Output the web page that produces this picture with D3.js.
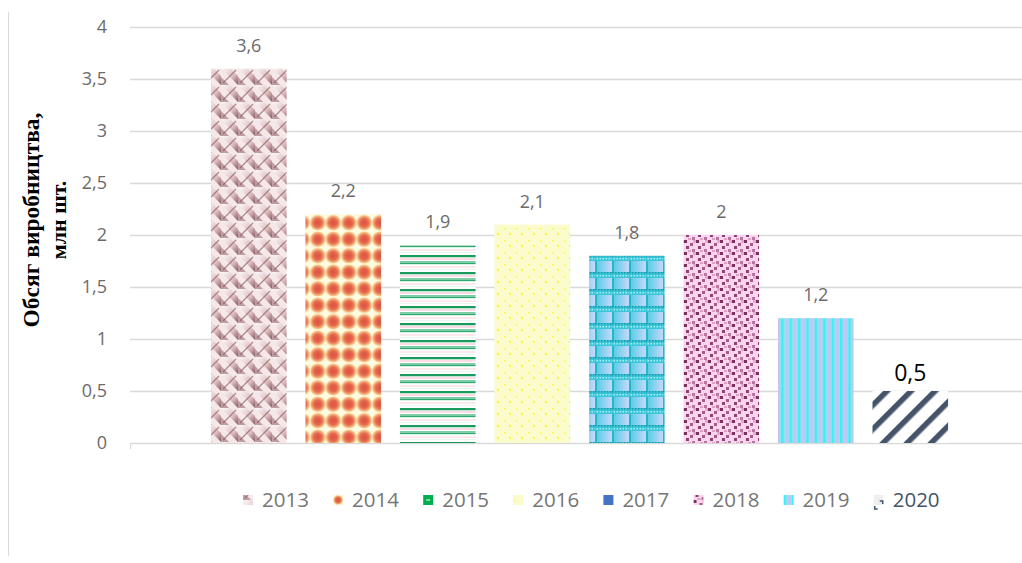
<!DOCTYPE html>
<html><head><meta charset="utf-8">
<script src="https://cdn.jsdelivr.net/npm/d3@7"></script>
<style>body{margin:0;background:#fff}svg{display:block}</style>
</head><body>
<script>
const years = ["2013","2014","2015","2016","2017","2018","2019","2020"];
const values = [3.6, 2.2, 1.9, 2.1, 1.8, 2, 1.2, 0.5];
const labels = ["3,6","2,2","1,9","2,1","1,8","2","1,2","0,5"];
const yTicks = [0, 0.5, 1, 1.5, 2, 2.5, 3, 3.5, 4];
const yTickLabels = ["0","0,5","1","1,5","2","2,5","3","3,5","4"];

const W = 1022, H = 563;
const svg = d3.select("body").append("svg").attr("width", W).attr("height", H);
const defs = svg.append("defs");
const FONT = "'Open Sans', Lato, sans-serif";

function pat(id, w, h) {
  return defs.append("pattern").attr("id", id).attr("patternUnits", "userSpaceOnUse")
    .attr("width", w).attr("height", h);
}
// 2013 weave
{
  const p = pat("p2013", 17, 17);
  p.append("rect").attr("width",17).attr("height",17).attr("fill","#f6e7e8");
  const g = defs.append("linearGradient").attr("id","g2013").attr("x1",0).attr("y1",0).attr("x2",1).attr("y2",1);
  g.append("stop").attr("offset",0).attr("stop-color","#ffffff");
  g.append("stop").attr("offset",0.6).attr("stop-color","#d8b4b8");
  g.append("stop").attr("offset",1).attr("stop-color","#6e3f45");
  p.append("path").attr("d","M0,0 L9,0 L17,8 L17,17 Z").attr("fill","url(#g2013)").attr("opacity",0.85);
  p.append("path").attr("d","M0,9 L8,17 L0,17 Z").attr("fill","#a77f84").attr("opacity",0.7);
  p.append("path").attr("d","M2,15 L15,2").attr("stroke","#7a4b50").attr("stroke-width",1.3).attr("opacity",0.6);
}
// 2014 dots
{
  const p = pat("p2014", 15.5, 16.5);
  p.append("rect").attr("width",15.5).attr("height",16.5).attr("fill","#fffbe0");
  const g = defs.append("radialGradient").attr("id","g2014");
  g.append("stop").attr("offset",0).attr("stop-color","#de4f3f");
  g.append("stop").attr("offset",0.5).attr("stop-color","#e46a4e");
  g.append("stop").attr("offset",0.8).attr("stop-color","#f3b27a");
  g.append("stop").attr("offset",1).attr("stop-color","#fff6cc");
  p.append("circle").attr("cx",7.75).attr("cy",8.25).attr("r",8.2).attr("fill","url(#g2014)");
}
// 2015 horizontal stripes
{
  const p = pat("p2015", 10, 17);
  p.append("rect").attr("width",10).attr("height",17).attr("fill","#ffffff");
  const rows = [[0,2,"#1a9a5c"],[2,1,"#bfe6d0"],[3,2,"#fbdce4"],[6,2,"#7fcda6"],[8,1,"#2fa872"],[9,1,"#d9f2e4"],[11,2,"#fde8ec"],[14,1,"#eaf7ef"]];
  rows.forEach(r => p.append("rect").attr("x",0).attr("y",r[0]).attr("width",10).attr("height",r[1]).attr("fill",r[2]));
}
// 2016 yellow lattice
{
  const p = pat("p2016", 12, 12);
  p.append("rect").attr("width",12).attr("height",12).attr("fill","#fcfcc4");
  p.append("path").attr("d","M0,6 L6,0 L12,6 L6,12 Z").attr("fill","none").attr("stroke","#fafad8").attr("stroke-width",1.6);
  p.append("rect").attr("x",5).attr("y",5).attr("width",2).attr("height",2).attr("fill","#f4f450");
  p.append("rect").attr("x",0).attr("y",0).attr("width",1.5).attr("height",1.5).attr("fill","#f4f460");
}
// 2017 teal checks
{
  const p = pat("p2017", 17, 17);
  p.append("rect").attr("width",17).attr("height",17).attr("fill","#3cc4d8");
  const g = defs.append("linearGradient").attr("id","g2017").attr("x1",0).attr("y1",0).attr("x2",1).attr("y2",0);
  g.append("stop").attr("offset",0).attr("stop-color","#4ccbe3");
  g.append("stop").attr("offset",1).attr("stop-color","#c8d8fb");
  p.append("rect").attr("x",0).attr("y",6).attr("width",17).attr("height",11).attr("fill","url(#g2017)");
  for (let i = 0; i < 17; i += 3) {
    p.append("rect").attr("x",i).attr("y",0).attr("width",1.5).attr("height",1.5).attr("fill","#1a9aa8");
    p.append("rect").attr("x",i+1.5).attr("y",3).attr("width",1.5).attr("height",1.5).attr("fill","#a8f0f0");
  }
  p.append("rect").attr("x",0).attr("y",6).attr("width",2).attr("height",11).attr("fill","#22b8c8");
}
// 2018 pink with purple squares
{
  const p = pat("p2018", 12, 12);
  p.append("rect").attr("width",12).attr("height",12).attr("fill","#fad6ee");
  [[0,0,"#7d2f62"],[6,3,"#a55a8c"],[2,6,"#8e3f74"],[8,9,"#b877a2"],[9,0,"#e7a8d0"],[4,10,"#e0a0c8"]].forEach(s =>
    p.append("rect").attr("x",s[0]).attr("y",s[1]).attr("width",3).attr("height",3).attr("fill",s[2]));
}
// 2019 vertical stripes
{
  const p = pat("p2019", 8.4, 10);
  p.append("rect").attr("width",8.4).attr("height",10).attr("fill","#c9c3f2");
  p.append("rect").attr("x",0).attr("width",2.5).attr("height",10).attr("fill","#3ff0f2");
  p.append("rect").attr("x",2.5).attr("width",1.5).attr("height",10).attr("fill","#8ee4f4");
  p.append("rect").attr("x",7).attr("width",1.4).attr("height",10).attr("fill","#8ee4f4");
}
// 2020 diagonal
{
  const p = pat("p2020", 17, 17).attr("patternTransform","rotate(45)");
  p.append("rect").attr("width",17).attr("height",17).attr("fill","#ffffff");
  p.append("rect").attr("x",0).attr("y",0).attr("width",5.5).attr("height",17).attr("fill","#44546a");
}

const fills = {"2013":"url(#p2013)","2014":"url(#p2014)","2015":"url(#p2015)","2016":"url(#p2016)",
  "2017":"url(#p2017)","2018":"url(#p2018)","2019":"url(#p2019)","2020":"url(#p2020)"};
const legendFills = {"2013":"url(#p2013)","2014":"url(#g2014)","2015":"#00b050","2016":"url(#p2016)",
  "2017":"#4472c4","2018":"url(#p2018)","2019":"url(#p2019)","2020":"#eeeeee"};

svg.append("line").attr("x1",8.5).attr("x2",8.5).attr("y1",12).attr("y2",556).attr("stroke","#d9d9d9").attr("stroke-width",1);

const plotL = 130, plotR = 1028;
const y = d3.scaleLinear().domain([0,4]).range([443, 27]);
const x = d3.scaleBand().domain(years).range([192.1, 967]).paddingInner(0.2).paddingOuter(0.2);

svg.append("g").selectAll("line").data(yTicks).join("line")
  .attr("x1", plotL).attr("x2", plotR)
  .attr("y1", d => Math.round(y(d)) + 0.5).attr("y2", d => Math.round(y(d)) + 0.5)
  .attr("stroke", "#d9d9d9").attr("stroke-width", 1.3);
svg.append("line").attr("x1",plotL+0.5).attr("x2",plotL+0.5).attr("y1",443).attr("y2",449).attr("stroke","#d9d9d9");

const yAxis = d3.axisLeft(y).tickValues(yTicks).tickFormat((d,i) => yTickLabels[i]).tickSize(0).tickPadding(0);
const ga = svg.append("g").attr("transform","translate(107,0)").call(yAxis);
ga.select(".domain").remove();
ga.selectAll("text").attr("font-family",FONT).attr("font-size","18px").attr("fill","#6b6b6b");

svg.append("g").selectAll("rect").data(years).join("rect")
  .attr("x", d => x(d)).attr("width", x.bandwidth())
  .attr("y", (d,i) => y(values[i])).attr("height", (d,i) => y(0) - y(values[i]))
  .attr("fill", d => fills[d]);

svg.append("g").selectAll("text").data(years).join("text")
  .attr("x", d => x(d) + x.bandwidth()/2)
  .attr("y", (d,i) => y(values[i]) - (i === 7 ? 10 : 17))
  .attr("text-anchor","middle")
  .attr("font-family",FONT)
  .attr("font-size", (d,i) => i === 7 ? "23px" : "18px")
  .attr("fill", (d,i) => i === 7 ? "#000" : "#6b6b6b")
  .text((d,i) => labels[i]);

const tt = svg.append("text").attr("transform","translate(0,220) rotate(-90)")
  .attr("text-anchor","middle").attr("font-family","'Liberation Serif', 'Times New Roman', serif")
  .attr("font-weight","bold").attr("fill","#000");
tt.append("tspan").attr("x",0).attr("y",39).attr("font-size","23.5px").text("Обсяг виробництва,");
tt.append("tspan").attr("x",0).attr("y",66).attr("font-size","22px").text("млн шт.");

const lg = svg.append("g").selectAll("g").data(years).join("g")
  .attr("transform", (d,i) => `translate(${243 + i*90.1},500)`);
lg.append("rect").attr("x",0).attr("y",-5).attr("width",10).attr("height",10).attr("fill", d => legendFills[d]);
lg.filter(d => d === "2020").append("path").attr("d","M6,1 L9,1 L9,4 M1,6 L1,9 L4,9").attr("fill","none").attr("stroke","#44546a").attr("stroke-width",1.5);
lg.filter(d => d === "2015").append("rect").attr("x",3).attr("y",-0.5).attr("width",4).attr("height",1).attr("fill","#ffffff");
lg.append("text").attr("x",19).attr("y",0).attr("dy","0.35em")
  .attr("font-family",FONT).attr("font-size","20.5px")
  .attr("fill", d => d === "2020" ? "#44546a" : "#767676").text(d => d);
</script>
</body></html>
